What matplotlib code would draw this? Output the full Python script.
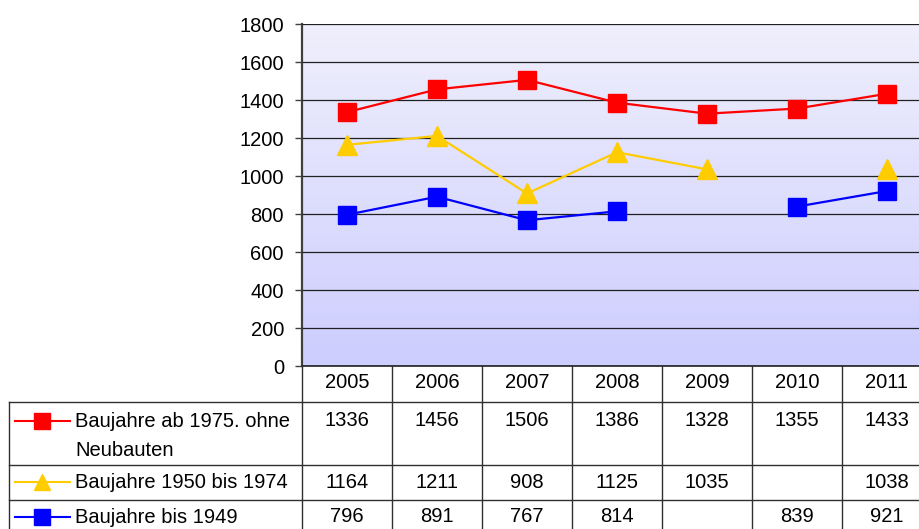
import numpy as np
import matplotlib.pyplot as plt
from matplotlib.colors import LinearSegmentedColormap

plt.rcParams['font.family'] = ['Liberation Sans', 'DejaVu Sans']

years = ['2005', '2006', '2007', '2008', '2009', '2010', '2011']
series_names = ['Baujahre ab 1975. ohne\nNeubauten', 'Baujahre 1950 bis 1974', 'Baujahre bis 1949']
red_vals = [1336, 1456, 1506, 1386, 1328, 1355, 1433]
yellow_vals = [1164, 1211, 908, 1125, 1035, None, 1038]
blue_vals = [796, 891, 767, 814, None, 839, 921]

colors = ['#FF0000', '#FFCC00', '#0000FF']
markers = ['s', '^', 's']
all_vals = [red_vals, yellow_vals, blue_vals]

W, H = 920, 529
FS = 14.5
fig = plt.figure(figsize=(W / 100, H / 100), dpi=100)

# plot area in pixels (extends a bit past the right edge, as in the original)
px_left, px_top, px_bottom, col_w = 302, 24, 366, 90
px_right = px_left + col_w * len(years)
ax = fig.add_axes([px_left / W, (H - px_bottom) / H,
                   (px_right - px_left) / W, (px_bottom - px_top) / H])

# gradient background
cmap = LinearSegmentedColormap.from_list('bg', ['#CDCDFF', '#EFEFFC'])
ax.imshow(np.linspace(0, 1, 256).reshape(-1, 1), cmap=cmap, aspect='auto',
          extent=[-0.5, len(years) - 0.5, 0, 1800], origin='lower', zorder=0)

x = np.arange(len(years))
for vals, c, m in zip(all_vals, colors, markers):
    y = np.array([np.nan if v is None else v for v in vals], dtype=float)
    ms = 14 if m == '^' else 13
    ax.plot(x, y, color=c, lw=1.6, marker=m, markersize=ms,
            markeredgecolor=c, zorder=3)

ax.set_xlim(-0.5, len(years) - 0.5)
ax.set_ylim(0, 1800)
ax.set_yticks(range(0, 1801, 200))
ax.tick_params(axis='y', labelsize=FS, length=5, width=1, color='#404040', pad=8)
ax.set_xticks([])
ax.grid(axis='y', color='#202020', lw=0.9, zorder=1)
ax.set_axisbelow(False)
for s in ['top', 'right']:
    ax.spines[s].set_visible(False)
ax.spines['left'].set_color('#404040')
ax.spines['left'].set_linewidth(1.6)
ax.spines['bottom'].set_color('#202020')
ax.spines['bottom'].set_linewidth(1.2)

# data table drawn in pixel coordinates
tab = fig.add_axes([0, 0, 1, 1], zorder=5)
tab.set_xlim(0, W)
tab.set_ylim(H, 0)
tab.axis('off')
tab.patch.set_alpha(0)

lc = '#303030'
row_lines = [402, 465, 500]
row_text_y = [421, 482, 517]
tab_left = 9
col_edges = [px_left + col_w * i for i in range(len(years) + 1)]

for ry in row_lines:
    tab.plot([tab_left, W + 20], [ry, ry], color=lc, lw=1)
tab.plot([tab_left, tab_left], [row_lines[0], H + 5], color=lc, lw=1)
for cx in col_edges:
    tab.plot([cx, cx], [px_bottom, H + 5], color=lc, lw=1)

for i, yr in enumerate(years):
    cx = px_left + col_w * (i + 0.5)
    tab.text(cx, 383, yr, ha='center', va='center', fontsize=FS)
    for vals, ty in zip(all_vals, row_text_y):
        if vals[i] is not None:
            tab.text(cx, ty, str(vals[i]), ha='center', va='center', fontsize=FS)

for name, c, m, ty in zip(series_names, colors, markers, row_text_y):
    tab.plot([15, 70], [ty, ty], color=c, lw=1.5)
    tab.plot([42.5], [ty], color=c, marker=m, markersize=11 if m == 's' else 12,
             markeredgecolor=c)
    tab.text(75, ty - 9, name, ha='left', va='top', fontsize=FS, linespacing=1.65)

fig.savefig('out.png', dpi=100)
